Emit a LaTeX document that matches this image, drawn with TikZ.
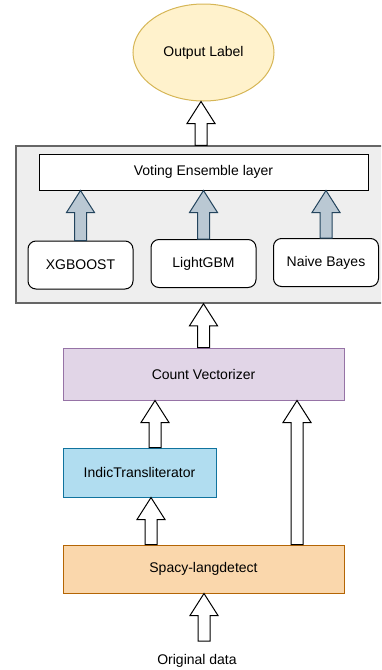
\documentclass[tikz,border=0pt]{standalone}
\usepackage{fontspec}
\setmainfont{Liberation Sans}
\usetikzlibrary{calc,shapes.geometric}
\definecolor{outfill}{HTML}{FFF2CC}
\definecolor{outdraw}{HTML}{D6B656}
\definecolor{ensfill}{HTML}{EEEEEE}
\definecolor{ensdraw}{HTML}{666666}
\definecolor{cvfill}{HTML}{E1D5E7}
\definecolor{cvdraw}{HTML}{9673A6}
\definecolor{indicfill}{HTML}{B1DDF0}
\definecolor{indicdraw}{HTML}{10739E}
\definecolor{spacyfill}{HTML}{FAD7AC}
\definecolor{spacydraw}{HTML}{B46504}
\definecolor{votefill}{HTML}{BAC8D3}
\definecolor{votedraw}{HTML}{23445D}
\tikzset{>=stealth,
    block/.style={draw, line width=1pt, minimum width=#1, inner sep=0pt},
    model/.style={draw, line width=1pt, fill=white, rounded corners=8pt,
        minimum width=105pt, minimum height=48pt, inner sep=0pt},
    bigarrow/.style={draw=black, fill=white, line width=1pt},
    votearrow/.style={draw=votedraw, fill=votefill, line width=1pt},
}
% block arrow: x of the start point, tip at the y of the target
\newcommand{\fatarrow}[3][bigarrow]{%
    \draw[#1] let \p1=(#2), \p2=(#3) in
        (\x1-6pt,\y1) -- (\x1-6pt,\y2-22pt) -- (\x1-14pt,\y2-22pt) -- (\x1,\y2)
        -- (\x1+14pt,\y2-22pt) -- (\x1+6pt,\y2-22pt) -- (\x1+6pt,\y1) -- cycle;}

\begin{document}
\begin{tikzpicture}[x=1pt, y=-1pt, every node/.style={font=\fontsize{14}{16}\selectfont}]
    \useasboundingbox (0,0) rectangle (381,670);
    \clip (0,0) rectangle (381,670);

    \node[ellipse, draw=outdraw, fill=outfill, line width=1pt, inner sep=0pt,
        minimum width=141pt, minimum height=97pt] (out) at (203.5,52.5) {Output Label};

    % ensemble container with the three models
    \node[block=370pt, draw=ensdraw, fill=ensfill, line width=1.5pt,
        minimum height=157pt] (ens) at (201,224.5) {};
    \node[block=329pt, fill=white, minimum height=36pt] (vote) at (203.5,172) {Voting Ensemble layer};
    \node[model] (xgb) at (80.5,265) {XGBOOST};
    \node[model] (lgbm) at (203.5,263.5) {LightGBM};
    \node[model] (nb) at (326,262.5) {Naive Bayes};

    \node[block=281pt, draw=cvdraw, fill=cvfill, minimum height=52pt] (cv) at (203.5,374) {Count Vectorizer};
    \node[block=153pt, draw=indicdraw, fill=indicfill, minimum height=49pt] (indic) at (139.5,472.5) {IndicTransliterator};
    \node[block=281pt, draw=spacydraw, fill=spacyfill, minimum height=48pt] (spacy) at (203.5,569) {Spacy-langdetect};
    \node[inner sep=0pt] (orig) at (197,661) {Original data};
    \coordinate (src) at (204,641);

    \fatarrow{src}{spacy.south}
    \fatarrow{[xshift=-52.5pt]spacy.north}{indic.south}
    \fatarrow{[xshift=93.5pt]spacy.north}{cv.south}
    \fatarrow{[xshift=15.5pt]indic.north}{cv.south}
    \fatarrow{cv.north}{ens.south}
    \fatarrow{ens.north}{out.south}
    \fatarrow[votearrow]{xgb.north}{vote.south}
    \fatarrow[votearrow]{lgbm.north}{vote.south}
    \fatarrow[votearrow]{nb.north}{vote.south}
\end{tikzpicture}
\end{document}
